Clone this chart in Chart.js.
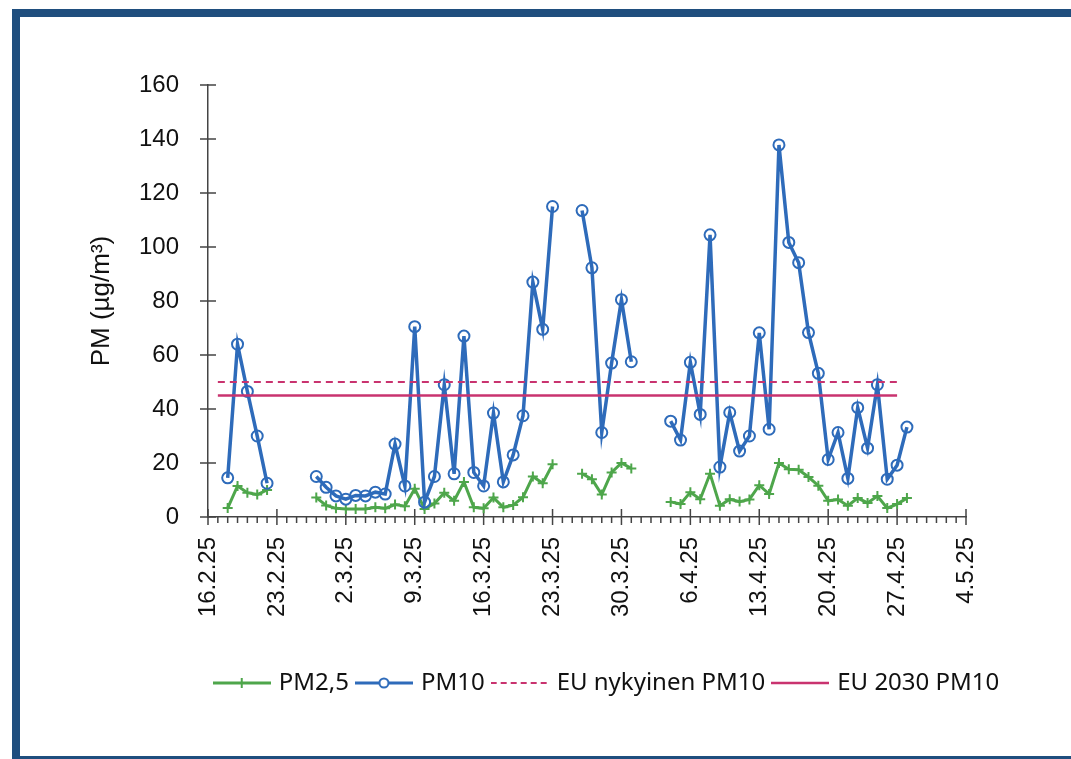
<!DOCTYPE html>
<html>
<head>
<meta charset="utf-8">
<script src="https://cdn.jsdelivr.net/npm/chart.js@4"></script>
<style>
  body { margin: 0; width: 1071px; height: 759px; overflow: hidden; position: relative; background: #fff; }
  #frame { position: absolute; left: 12px; top: 9px; width: 1100px; height: 739px;
           border-left: 8px solid #1f4e7e; border-top: 8px solid #1f4e7e; border-bottom: 8px solid #1f4e7e; }
  #myChart { position: absolute; left: 0; top: 0; }
</style>
</head>
<body>
<div id="frame"></div>
<canvas id="myChart" width="1071" height="759"></canvas>
<script>
// one label per day, 16.2.25 .. 4.5.25
const dates = [
    '16.2.25', '17.2.25', '18.2.25', '19.2.25', '20.2.25', '21.2.25', '22.2.25',
    '23.2.25', '24.2.25', '25.2.25', '26.2.25', '27.2.25', '28.2.25', '1.3.25',
    '2.3.25', '3.3.25', '4.3.25', '5.3.25', '6.3.25', '7.3.25', '8.3.25',
    '9.3.25', '10.3.25', '11.3.25', '12.3.25', '13.3.25', '14.3.25', '15.3.25',
    '16.3.25', '17.3.25', '18.3.25', '19.3.25', '20.3.25', '21.3.25', '22.3.25',
    '23.3.25', '24.3.25', '25.3.25', '26.3.25', '27.3.25', '28.3.25', '29.3.25',
    '30.3.25', '31.3.25', '1.4.25', '2.4.25', '3.4.25', '4.4.25', '5.4.25',
    '6.4.25', '7.4.25', '8.4.25', '9.4.25', '10.4.25', '11.4.25', '12.4.25',
    '13.4.25', '14.4.25', '15.4.25', '16.4.25', '17.4.25', '18.4.25', '19.4.25',
    '20.4.25', '21.4.25', '22.4.25', '23.4.25', '24.4.25', '25.4.25', '26.4.25',
    '27.4.25', '28.4.25', '29.4.25', '30.4.25', '1.5.25', '2.5.25', '3.5.25',
    '4.5.25'
]

const tickLabels = ['16.2.25', '23.2.25', '2.3.25', '9.3.25', '16.3.25', '23.3.25',
    '30.3.25', '6.4.25', '13.4.25', '20.4.25', '27.4.25', '4.5.25']

const pm25 = [
    null, null, 3.3, 11.5, 9, 8.3, 10,
    null, null, null, null, 7.2, 4.3, 3.2,
    3, 3, 3, 3.6, 3.2, 4.6, 4,
    10.5, 3, 5, 9, 6, 13, 3.6,
    3.2, 7.2, 3.6, 4.4, 7.3, 15, 12.5,
    19.5, null, null, 16, 14, 8.3, 16.5,
    20, 18, null, null, null, 5.6, 4.8,
    9.2, 6.6, 16, 4.2, 6.6, 5.7, 6.5,
    11.8, 8.5, 20, 17.7, 17.5, 14.8, 11.6,
    6, 6.5, 4.2, 7, 5.2, 7.8, 3.3,
    4.8, 7, null, null, null, null, null,
    null
]

const pm10 = [
    null, null, 14.5, 64, 46.5, 30, 12.5,
    null, null, null, null, 15, 11, 7.8,
    6.6, 8, 7.8, 9.2, 8.5, 27, 11.5,
    70.5, 5.5, 15, 49, 16, 67, 16.5,
    11.5, 38.5, 13, 23, 37.5, 87, 69.5,
    115, null, null, 113.5, 92.3, 31.3, 57,
    80.5, 57.5, null, null, null, 35.5, 28.5,
    57.3, 38, 104.5, 18.5, 38.7, 24.4, 30,
    68.2, 32.5, 137.8, 101.7, 94.2, 68.3, 53.2,
    21.3, 31.3, 14.3, 40.5, 25.5, 49, 14,
    19.2, 33.3, null, null, null, null, null,
    null
]

// EU limit lines
const limitDates = ['17.2.25', '27.4.25']
const euNow = [50, 50]
const eu2030 = [45, 45]

const seriesNames = ['PM2,5', 'PM10', 'EU nykyinen PM10', 'EU 2030 PM10']

const green = '#4ea64b'
const blue = '#2e6bba'
const pink = '#c9336f'
const legendShift = 90

function legendIcon(color, width, dash, marker) {
    const c = document.createElement('canvas')
    c.width = 58
    c.height = 16
    const g = c.getContext('2d')
    g.strokeStyle = color
    g.lineWidth = width
    g.setLineDash(dash)
    g.beginPath()
    g.moveTo(0, 8)
    g.lineTo(58, 8)
    g.stroke()
    g.setLineDash([])
    g.lineWidth = 2
    if (marker === 'cross') {
        g.beginPath()
        g.moveTo(29, 3); g.lineTo(29, 13)
        g.moveTo(24, 8); g.lineTo(34, 8)
        g.stroke()
    } else if (marker === 'circle') {
        g.fillStyle = '#fff'
        g.beginPath()
        g.arc(29, 8, 4.5, 0, Math.PI * 2)
        g.fill()
        g.stroke()
    }
    return c
}

const legendIcons = [
    legendIcon(green, 3, [], 'cross'),
    legendIcon(blue, 3, [], 'circle'),
    legendIcon(pink, 2, [6, 4], null),
    legendIcon(pink, 2.5, [], null)
]

const axisTicks = {
    id: 'axisTicks',
    beforeDatasetsDraw(chart) {
        const { ctx, scales: { x, y } } = chart
        ctx.save()
        ctx.strokeStyle = '#444'
        ctx.lineWidth = 1.5
        ctx.beginPath()
        dates.forEach((d, i) => {
            const px = x.getPixelForValue(i)
            if (tickLabels.includes(d)) {
                ctx.moveTo(px, x.top - 8)
                ctx.lineTo(px, x.top + 8)
            } else {
                ctx.moveTo(px, x.top)
                ctx.lineTo(px, x.top + 6)
            }
        })
        y.ticks.forEach(t => {
            const py = y.getPixelForValue(t.value)
            ctx.moveTo(y.right - 8, py)
            ctx.lineTo(y.right + 8, py)
        })
        ctx.stroke()
        ctx.restore()
    },
    afterLayout(chart) {
        chart.legend.left += legendShift
        chart.legend.right += legendShift
    }
}

function drawChart() {
    new Chart('myChart', {
        type: 'line',
        data: {
            labels: dates,
            datasets: [
                {
                    label: seriesNames[0],
                    data: pm25,
                    borderColor: green,
                    borderWidth: 3,
                    pointStyle: 'cross',
                    pointRadius: 5,
                    pointBorderWidth: 2,
                    pointBorderColor: green,
                    tension: 0,
                    spanGaps: false,
                    order: 3
                },
                {
                    label: seriesNames[1],
                    data: pm10,
                    borderColor: blue,
                    borderWidth: 3.5,
                    pointStyle: 'circle',
                    pointRadius: 5.5,
                    pointBorderWidth: 2,
                    pointBorderColor: blue,
                    pointBackgroundColor: 'rgba(255,255,255,0)',
                    tension: 0,
                    spanGaps: false,
                    order: 2
                },
                {
                    label: seriesNames[2],
                    data: limitDates.map((d, i) => ({ x: d, y: euNow[i] })),
                    borderColor: pink,
                    borderWidth: 2,
                    borderDash: [7, 5],
                    pointRadius: 0,
                    order: 1
                },
                {
                    label: seriesNames[3],
                    data: limitDates.map((d, i) => ({ x: d, y: eu2030[i] })),
                    borderColor: pink,
                    borderWidth: 2.5,
                    pointRadius: 0,
                    order: 0
                }
            ]
        },
        options: {
            responsive: false,
            animation: false,
            devicePixelRatio: 1,
            layout: { padding: { left: 70, right: 105, top: 85, bottom: 54 } },
            plugins: {
                tooltip: { enabled: false },
                legend: {
                    position: 'bottom',
                    labels: {
                        usePointStyle: true,
                        pointStyleWidth: 50,
                        padding: 10,
                        color: '#111',
                        font: { family: 'Noto Sans', size: 24 },
                        generateLabels: chart => chart.data.datasets.map((ds, i) => ({
                            text: ds.label,
                            pointStyle: legendIcons[i],
                            datasetIndex: i,
                            fillStyle: 'rgba(0,0,0,0)',
                            strokeStyle: 'rgba(0,0,0,0)',
                            lineWidth: 0,
                            hidden: false,
                            fontColor: '#111'
                        }))
                    }
                }
            },
            scales: {
                x: {
                    type: 'category',
                    offset: false,
                    afterFit: s => { s.height = 144 },
                    grid: { display: true, drawOnChartArea: false, drawTicks: false },
                    border: { display: true, color: '#444', width: 1.5 },
                    ticks: {
                        autoSkip: false,
                        minRotation: 90,
                        maxRotation: 90,
                        padding: 20,
                        color: '#111',
                        font: { family: 'Liberation Sans', size: 24 },
                        callback: (v, i) => tickLabels.includes(dates[i]) ? dates[i] : ''
                    }
                },
                y: {
                    min: 0,
                    max: 160,
                    afterFit: s => { s.width = 138 },
                    grid: { display: true, drawOnChartArea: false, drawTicks: false },
                    border: { display: true, color: '#444', width: 1.5 },
                    ticks: {
                        stepSize: 20,
                        padding: 29,
                        color: '#111',
                        font: { family: 'Liberation Sans', size: 24 }
                    },
                    title: {
                        display: true,
                        text: 'PM (µg/m³)',
                        color: '#111',
                        padding: { top: 16, bottom: 0 },
                        font: { family: 'Liberation Sans', size: 26 }
                    }
                }
            }
        },
        plugins: [axisTicks]
    })
}

drawChart()
</script>
</body>
</html>
